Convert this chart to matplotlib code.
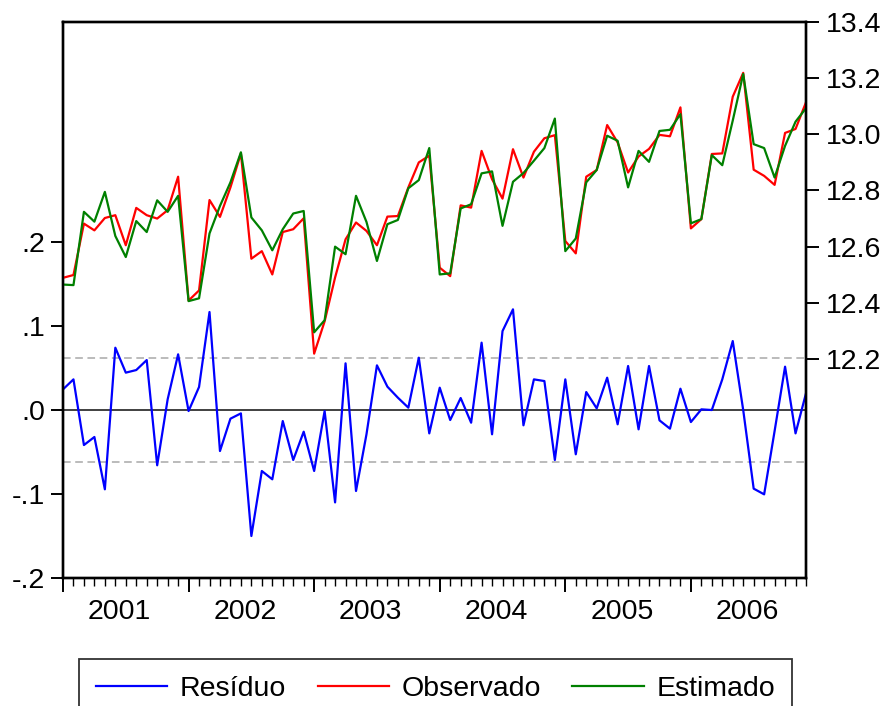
import numpy as np
import matplotlib
matplotlib.use("Agg")
from matplotlib import pyplot as plt
from matplotlib.ticker import FixedLocator, MultipleLocator

plt.rcParams['font.family'] = ['Liberation Sans', 'DejaVu Sans']

# monthly series, jan 2001 .. dec 2006
years = ['2001', '2002', '2003', '2004', '2005', '2006']

observado = [
    12.489, 12.499, 12.682, 12.658, 12.702, 12.712, 12.605, 12.738, 12.712, 12.700, 12.730, 12.849,
    12.408, 12.444, 12.766, 12.706, 12.811, 12.932, 12.557, 12.584, 12.501, 12.652, 12.662, 12.701,
    12.219, 12.334, 12.490, 12.626, 12.686, 12.656, 12.605, 12.707, 12.709, 12.811, 12.900, 12.924,
    12.525, 12.495, 12.747, 12.739, 12.941, 12.840, 12.771, 12.947, 12.846, 12.938, 12.986, 12.997,
    12.620, 12.576, 12.849, 12.873, 13.033, 12.971, 12.864, 12.921, 12.948, 12.998, 12.993, 13.096,
    12.665, 12.698, 12.930, 12.932, 13.134, 13.219, 12.874, 12.852, 12.820, 13.005, 13.019, 13.114,
]

estimado = [
    12.465, 12.463, 12.724, 12.689, 12.795, 12.638, 12.563, 12.691, 12.652, 12.765, 12.724, 12.781,
    12.406, 12.416, 12.647, 12.745, 12.829, 12.936, 12.704, 12.658, 12.587, 12.662, 12.718, 12.727,
    12.295, 12.338, 12.600, 12.573, 12.781, 12.688, 12.549, 12.680, 12.695, 12.808, 12.837, 12.951,
    12.501, 12.505, 12.736, 12.751, 12.861, 12.868, 12.674, 12.831, 12.862, 12.906, 12.951, 13.056,
    12.584, 12.629, 12.829, 12.873, 12.995, 12.977, 12.811, 12.941, 12.902, 13.012, 13.016, 13.072,
    12.683, 12.698, 12.926, 12.890, 13.049, 13.215, 12.965, 12.951, 12.846, 12.959, 13.045, 13.093,
]

residuo = [
    0.0246, 0.0365, -0.0417, -0.0321, -0.0944, 0.0742, 0.0445, 0.0476, 0.0595, -0.0658, 0.0127, 0.0663,
    -0.0012, 0.0274, 0.1167, -0.0488, -0.0103, -0.0040, -0.1500, -0.0726, -0.0825, -0.0131, -0.0595, -0.0258,
    -0.0726, -0.0012, -0.1100, 0.0556, -0.0964, -0.0289, 0.0532, 0.0278, 0.0147, 0.0028, 0.0623, -0.0278,
    0.0266, -0.0119, 0.0143, -0.0151, 0.0802, -0.0289, 0.0940, 0.1199, -0.0182, 0.0365, 0.0345, -0.0595,
    0.0365, -0.0527, 0.0214, 0.0020, 0.0385, -0.0170, 0.0524, -0.0230, 0.0524, -0.0123, -0.0222, 0.0254,
    -0.0143, 0.0008, 0.0000, 0.0365, 0.0821, 0.0000, -0.0936, -0.1004, -0.0250, 0.0516, -0.0278, 0.0199,
]

desvio = 0.062  # +/- 1 s.e. band

W, H = 888, 706
fig = plt.figure(figsize=(W / 100, H / 100), dpi=100)
ax = fig.add_axes([63 / W, (H - 578) / H, (806 - 63) / W, (578 - 22) / H])
ax2 = ax.twinx()

t = np.arange(len(residuo))
fs = 20.5

# residual on the left scale
ax.axhline(0, color='#404040', lw=1.4, zorder=1)
ax.axhline(desvio, color='#a8a8a8', lw=1.1, ls=(0, (5, 3)), zorder=1)
ax.axhline(-desvio, color='#a8a8a8', lw=1.1, ls=(0, (5, 3)), zorder=1)
l1, = ax.plot(t, residuo, color='#0000ff', lw=1.6, zorder=2)
ax.set_ylim(-0.2, 0.462)
ax.set_xlim(0, len(residuo) - 1)
ax.yaxis.set_major_locator(FixedLocator([-0.2, -0.1, 0.0, 0.1, 0.2]))
ax.set_yticklabels(['-.2', '-.1', '.0', '.1', '.2'])

# actual and fitted on the right scale
l2, = ax2.plot(t, observado, color='#ff0000', lw=1.6)
l3, = ax2.plot(t, estimado, color='#008000', lw=1.6)
ax2.set_ylim(11.42, 13.40)
ax2.yaxis.set_major_locator(FixedLocator([12.2, 12.4, 12.6, 12.8, 13.0, 13.2, 13.4]))
ax2.set_yticklabels(['12.2', '12.4', '12.6', '12.8', '13.0', '13.2', '13.4'])

# year ticks with month minor ticks
ax.xaxis.set_major_locator(MultipleLocator(12))
ax.xaxis.set_minor_locator(MultipleLocator(1))
ax.set_xticklabels([])
ax.tick_params(axis='x', which='major', length=10, width=1.4, direction='out')
ax.tick_params(axis='x', which='minor', length=6, width=1.0, direction='out')
for k, y in enumerate(years):
    ax.text(12 * k + 5.4, -0.062, y, transform=ax.get_xaxis_transform(),
            ha='center', va='center', fontsize=fs)

ax.tick_params(axis='y', length=9, width=1.4, pad=4, labelsize=fs)
ax2.tick_params(axis='y', length=9, width=1.4, pad=5, labelsize=fs)

for a in (ax, ax2):
    for s in a.spines.values():
        s.set_linewidth(1.7)

leg = fig.legend([l1, l2, l3], ['Resíduo', 'Observado', 'Estimado'],
                 loc='upper center', bbox_to_anchor=(435.5 / W, 1 - 659 / H),
                 borderaxespad=0, ncol=3, fontsize=fs, frameon=True,
                 fancybox=False, edgecolor='black', handlelength=2.5,
                 handletextpad=0.45, columnspacing=1.1, borderpad=0.6)
leg.get_frame().set_linewidth(1.3)

fig.savefig('out.png', dpi=100)
